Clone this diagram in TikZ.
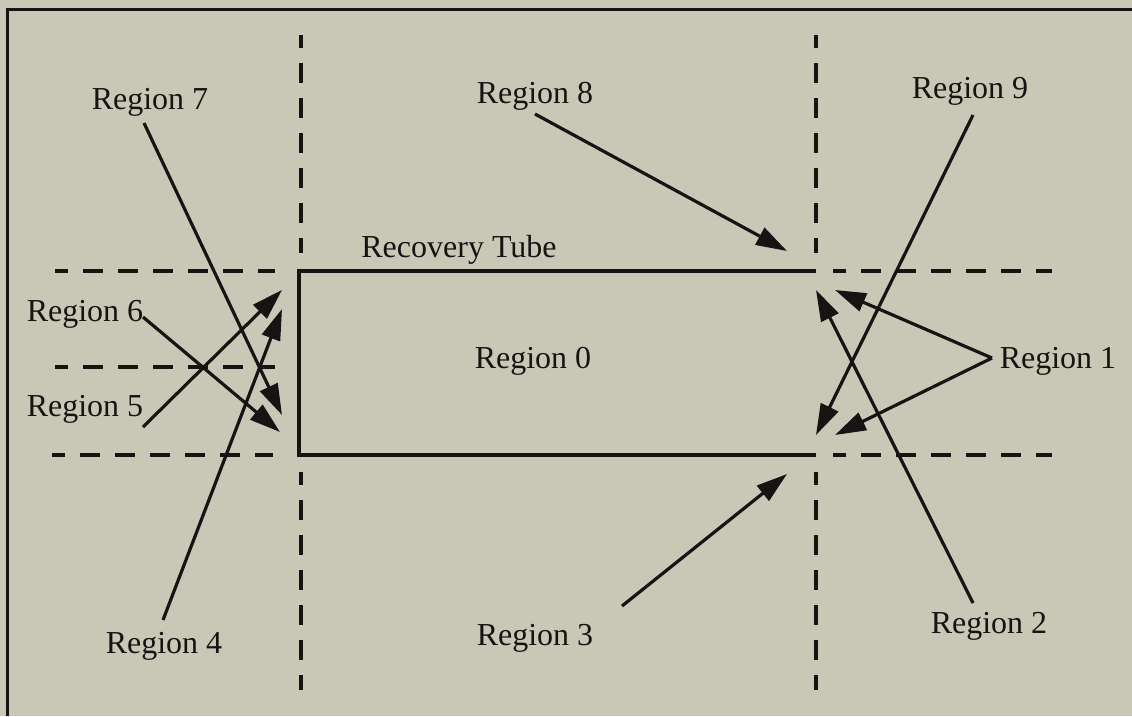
\documentclass[tikz,border=0pt]{standalone}
\usepackage{fontspec}
\setmainfont{Liberation Serif}
\usetikzlibrary{arrows.meta}
\definecolor{paper}{RGB}{201,200,183}
\definecolor{ink}{RGB}{22,20,18}
\begin{document}
\begin{tikzpicture}[x=1pt,y=-1pt,
  lbl/.style={text=ink,font=\fontsize{32}{36}\selectfont,inner sep=0pt},
  ptr/.style={draw=ink,line width=3.2pt,-{Triangle[length=31pt,width=19pt]}},
  guide/.style={draw=ink,line width=3.6pt,dash pattern=on 20pt off 15pt,dash phase=7pt},
  tube/.style={draw=ink,line width=3.6pt},
  frame/.style={draw=ink,line width=2.8pt}]
% page and frame
\fill[paper] (0,0) rectangle (1132,716);
\useasboundingbox (0,0) rectangle (1132,716);
\draw[frame] (7.5,716) -- (7.5,9.5) -- (1132,9.5);

% dashed region boundaries
\draw[guide] (301,35) -- (301,253);
\draw[guide] (301,472) -- (301,690);
\draw[guide] (816,35) -- (816,253);
\draw[guide] (816,472) -- (816,690);
\draw[guide] (55,271) -- (275,271);
\draw[guide] (55,367) -- (275,367);
\draw[guide] (52,455) -- (273,455);
\draw[guide] (833,271) -- (1052,271);
\draw[guide] (833,455) -- (1052,455);

% recovery tube (open at the right end)
\draw[tube] (816,271) -- (299,271) -- (299,455) -- (816,455);

% labels
\node[lbl] (r0) at (533,361) {Region 0};
\node[lbl] (r1) at (1058,361) {Region 1};
\node[lbl] (r2) at (989,626) {Region 2};
\node[lbl] (r3) at (535,638) {Region 3};
\node[lbl] (r4) at (164,646) {Region 4};
\node[lbl] (r5) at (85,409) {Region 5};
\node[lbl] (r6) at (85,314) {Region 6};
\node[lbl] (r7) at (150,102) {Region 7};
\node[lbl] (r8) at (535,96) {Region 8};
\node[lbl] (r9) at (970,91) {Region 9};
\node[lbl] (rt) at (459,250) {Recovery Tube};

% pointer start points
\coordinate (s1) at (992,358);
\coordinate (s2) at (973,603);
\coordinate (s3) at (622,606);
\coordinate (s4) at (163,620);
\coordinate (s5) at (143,427);
\coordinate (s6) at (143,317);
\coordinate (s7) at (144,123);
\coordinate (s8) at (535,114);
\coordinate (s9) at (973,115);

% pointer tips
\coordinate (t1a) at (835,290);
\coordinate (t1b) at (835,435);
\coordinate (t2) at (816,290);
\coordinate (t3) at (787,474);
\coordinate (t4) at (282,309);
\coordinate (t5) at (282,290);
\coordinate (t6) at (280,432);
\coordinate (t7) at (282,415);
\coordinate (t8) at (787,251);
\coordinate (t9) at (816,435);

% pointers
\draw[ptr] (s1) -- (t1a);
\draw[ptr] (s1) -- (t1b);
\draw[ptr] (s2) -- (t2);
\draw[ptr] (s3) -- (t3);
\draw[ptr] (s4) -- (t4);
\draw[ptr] (s5) -- (t5);
\draw[ptr] (s6) -- (t6);
\draw[ptr] (s7) -- (t7);
\draw[ptr] (s8) -- (t8);
\draw[ptr] (s9) -- (t9);
\end{tikzpicture}
\end{document}
